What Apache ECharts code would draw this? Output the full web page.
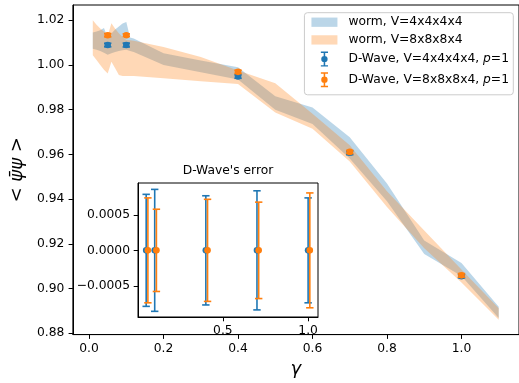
<!DOCTYPE html>
<html><head><meta charset="utf-8">
<script src="https://cdn.jsdelivr.net/npm/echarts@6/dist/echarts.min.js"></script>
<style>html,body{margin:0;padding:0;background:#fff}#c{width:519px;height:383px}</style>
</head><body><div id="c"></div>
<script>
// ---- data ----
const gammaWorm = [0.01,0.02,0.03,0.04,0.05,0.06,0.07,0.08,0.09,0.10,0.11,0.12,0.2,0.3,0.4,0.5,0.6,0.7,0.8,0.9,1.0,1.1];
const worm4Lo = [1.0072,1.0068,1.0062,1.0055,1.0045,1.0052,1.0058,1.0062,1.0066,1.0068,1.0062,1.0058,1.0000,0.9967,0.9935,0.9800,0.9736,0.9582,0.9390,0.9155,0.9056,0.8868];
const worm4Hi = [1.0145,1.0150,1.0155,1.0165,1.0122,1.0140,1.0158,1.0172,1.0185,1.0192,1.0123,1.0118,1.0052,1.0020,0.9990,0.9860,0.9810,0.9677,0.9470,0.9215,0.9114,0.8918];
const worm8Lo = [1.0043,1.0022,1.0000,0.9978,0.9962,1.0014,0.9985,0.9955,0.9950,0.9950,0.9950,0.9950,0.9940,0.9927,0.9915,0.9787,0.9715,0.9568,0.9365,0.9180,0.9027,0.8860];
const worm8Hi = [1.0200,1.0180,1.0163,1.0148,1.0130,1.0186,1.0162,1.0142,1.0125,1.0112,1.0110,1.0108,1.0080,1.0035,0.9975,0.9918,0.9782,0.9641,0.9435,0.9260,0.9085,0.8912];
const gammaDW = [0.05,0.1,0.4,0.7,1.0];
const dw4 = [1.0089,1.0089,0.9948,0.9607,0.9055];
const dw8 = [1.0133,1.0133,0.9969,0.9611,0.9059];
const dw4Err = [0.00079,0.00086,0.00077,0.00084,0.00074];
const dw8Err = [0.00074,0.00058,0.00072,0.00068,0.00081];
const dw4Res = [0,0,0,0,0];
const dw8Res = [0,0,0,0,0];
const insetShift8 = 0.01;
const xTicks = [0,0.2,0.4,0.6,0.8,1.0];
const yTicks = [0.88,0.90,0.92,0.94,0.96,0.98,1.00,1.02];
const insetXTicks = [0.5,1.0];
const insetYTicks = [-0.0005,0,0.0005];
const names = ['worm, V=4x4x4x4','worm, V=8x8x8x4','D-Wave, V=4x4x4x4, p=1','D-Wave, V=8x8x8x4, p=1'];

// ---- styles ----
const BLUE = '#1f77b4', ORANGE = '#ff7f0e';
const FONT = 'DejaVu Sans';
const FS = 12.3;

function bandSeries(name, xs, lo, hi, fill) {
  return {
    type: 'custom', name: name, xAxisIndex: 0, yAxisIndex: 0, z: 2,
    itemStyle: {color: fill},
    data: xs.map((x, i) => [x, lo[i], hi[i]]),
    encode: {x: 0, y: [1, 2]},
    renderItem: function (params, api) {
      if (params.dataIndex !== 0) return null;
      const pts = [];
      for (let i = 0; i < xs.length; i++) pts.push(api.coord([xs[i], hi[i]]));
      for (let i = xs.length - 1; i >= 0; i--) pts.push(api.coord([xs[i], lo[i]]));
      return {type: 'polygon', shape: {points: pts}, style: {fill: fill, stroke: null}};
    }
  };
}

function ebSeries(name, xs, ys, es, color, axis, z) {
  return {
    type: 'custom', name: name, xAxisIndex: axis, yAxisIndex: axis, z: z,
    itemStyle: {color: color},
    data: xs.map((x, i) => [x, ys[i], es[i]]),
    encode: {x: 0, y: 1},
    renderItem: function (params, api) {
      const x = api.value(0), y = api.value(1), e = api.value(2);
      const c = api.coord([x, y]);
      const t = api.coord([x, y + e]);
      const b = api.coord([x, y - e]);
      const cap = 3.7, lw = 1.6;
      const st = {stroke: color, lineWidth: lw};
      return {type: 'group', children: [
        {type: 'line', shape: {x1: c[0], y1: t[1], x2: c[0], y2: b[1]}, style: st},
        {type: 'line', shape: {x1: c[0] - cap, y1: t[1], x2: c[0] + cap, y2: t[1]}, style: st},
        {type: 'line', shape: {x1: c[0] - cap, y1: b[1], x2: c[0] + cap, y2: b[1]}, style: st},
        {type: 'circle', shape: {cx: c[0], cy: c[1], r: 3.3}, style: {fill: color}}
      ]};
    }
  };
}

const rectIcon = 'path://M0,0H26V9.3H0Z';
const ebIcon = 'path://M0.3,0H7.7V1.5H0.3Z M0.3,14H7.7V15.5H0.3Z M3.2,0H4.8V15.5H3.2Z M0.7,7.75A3.3,3.3,0,1,1,7.3,7.75A3.3,3.3,0,1,1,0.7,7.75Z';

const axisCommon = {
  axisLine: {show: true, onZero: false, lineStyle: {color: '#000', width: 1}},
  axisTick: {show: true, length: 4.3, lineStyle: {color: '#000', width: 1}},
  splitLine: {show: false}
};

const chart = echarts.init(document.getElementById('c'), null, {renderer: 'canvas'});
chart.setOption({
  animation: false,
  backgroundColor: '#fff',
  textStyle: {fontFamily: FONT},
  grid: [
    {left: 71, top: 5, width: 450.4, height: 336, show: true, borderColor: '#000', borderWidth: 1, backgroundColor: 'transparent', containLabel: false},
    {left: 138, top: 183, width: 180, height: 134, show: true, borderColor: '#000', borderWidth: 1, backgroundColor: '#fff', z: 5, containLabel: false}
  ],
  xAxis: [
    Object.assign({}, axisCommon, {
      type: 'value', gridIndex: 0, min: -0.0435, max: 1.1545,
      axisTick: {show: true, length: 4.3, customValues: xTicks, lineStyle: {color: '#000'}},
      axisLabel: {customValues: xTicks, formatter: v => v.toFixed(1), color: '#000', fontSize: FS, fontFamily: FONT, margin: 8.5},
      name: 'γ', nameLocation: 'middle', nameGap: 22,
      nameTextStyle: {fontSize: 18, fontStyle: 'italic', fontFamily: FONT, color: '#000'}
    }),
    Object.assign({}, axisCommon, {
      type: 'value', gridIndex: 1, min: 0.002, max: 1.058, z: 6,
      axisTick: {show: true, length: 4.3, customValues: insetXTicks, lineStyle: {color: '#000'}},
      axisLabel: {customValues: insetXTicks, formatter: v => v.toFixed(1), color: '#000', fontSize: FS, fontFamily: FONT, margin: 8}
    })
  ],
  yAxis: [
    Object.assign({}, axisCommon, {
      type: 'value', gridIndex: 0, min: 0.8794, max: 1.0268,
      axisTick: {show: true, length: 4.3, customValues: yTicks, lineStyle: {color: '#000'}},
      axisLabel: {customValues: yTicks, formatter: v => v.toFixed(2), color: '#000', fontSize: FS, fontFamily: FONT, margin: 8.6},
      name: '{r|<} {i|\u03C8\u0304\u03C8} {r|>}', nameLocation: 'middle', nameGap: 33,
      nameTextStyle: {fontSize: 18, fontFamily: FONT, color: '#000',
        rich: {r: {fontSize: 18, fontFamily: FONT, color: '#000'}, i: {fontSize: 18, fontFamily: FONT, fontStyle: 'italic', color: '#000'}}}
    }),
    Object.assign({}, axisCommon, {
      type: 'value', gridIndex: 1, min: -0.00094, max: 0.00095, z: 6,
      axisTick: {show: true, length: 4.3, customValues: insetYTicks, lineStyle: {color: '#000'}},
      axisLabel: {customValues: insetYTicks, color: '#000', fontSize: FS, fontFamily: FONT, margin: 8,
        formatter: v => (Math.abs(v) < 1e-12 ? '0.0000' : (v < 0 ? '\u2212' : '') + Math.abs(v).toFixed(4))}
    })
  ],
  legend: {
    orient: 'vertical', right: 5.7, top: 12.7,
    padding: [3.5, 4.3, 7.5, 7],
    itemWidth: 26, itemHeight: 15, itemGap: 5.7,
    backgroundColor: 'rgba(255,255,255,0.8)', borderColor: '#cccccc', borderWidth: 1, borderRadius: 3,
    selectedMode: false,
    textStyle: {fontSize: FS, fontFamily: FONT, color: '#000', padding: [0, 0, 0, 6],
      rich: {i: {fontSize: FS, fontFamily: FONT, fontStyle: 'italic', color: '#000'}}},
    formatter: n => n.replace(', p=1', ', {i|p}=1'),
    data: [
      {name: names[0], icon: rectIcon},
      {name: names[1], icon: rectIcon},
      {name: names[2], icon: ebIcon},
      {name: names[3], icon: ebIcon}
    ]
  },
  graphic: [
    {type: 'text', x: 228, y: 171, z: 20,
      style: {text: "D-Wave's error", font: FS + 'px "DejaVu Sans"', fill: '#000', textAlign: 'center', textVerticalAlign: 'middle'}}
  ],
  series: [
    bandSeries(names[0], gammaWorm, worm4Lo, worm4Hi, 'rgba(31,119,180,0.3)'),
    bandSeries(names[1], gammaWorm, worm8Lo, worm8Hi, 'rgba(255,127,14,0.3)'),
    ebSeries(names[2], gammaDW, dw4, dw4Err, BLUE, 0, 3),
    ebSeries(names[3], gammaDW, dw8, dw8Err, ORANGE, 0, 4),
    ebSeries(names[2], gammaDW, dw4Res, dw4Err, BLUE, 1, 7),
    ebSeries(names[3], gammaDW.map(g => g + insetShift8), dw8Res, dw8Err, ORANGE, 1, 8)
  ]
});
</script>
</body></html>
